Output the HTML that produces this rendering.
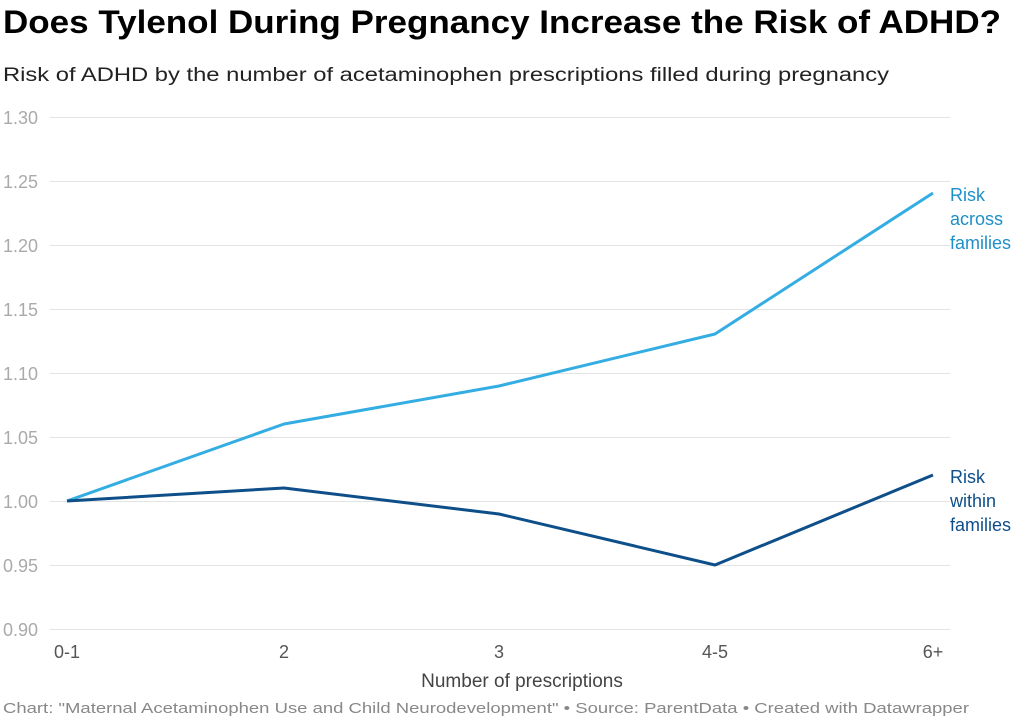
<!DOCTYPE html>
<html><head><meta charset="utf-8"><style>body{margin:0;background:#fff}svg{display:block}</style></head><body>
<svg width="1024" height="720" xmlns="http://www.w3.org/2000/svg" font-family="Liberation Sans, sans-serif">
<text x="3" y="33" font-size="32" font-weight="bold" fill="#000" textLength="998" lengthAdjust="spacingAndGlyphs">Does Tylenol During Pregnancy Increase the Risk of ADHD?</text>
<text x="3" y="81" font-size="19" fill="#222" textLength="886" lengthAdjust="spacingAndGlyphs">Risk of ADHD by the number of acetaminophen prescriptions filled during pregnancy</text>
<g stroke="#e3e3e3" stroke-width="1">
<line x1="50" x2="950" y1="117.5" y2="117.5"/><line x1="50" x2="950" y1="181.5" y2="181.5"/><line x1="50" x2="950" y1="245.5" y2="245.5"/><line x1="50" x2="950" y1="309.5" y2="309.5"/><line x1="50" x2="950" y1="373.5" y2="373.5"/><line x1="50" x2="950" y1="437.5" y2="437.5"/><line x1="50" x2="950" y1="501.5" y2="501.5"/><line x1="50" x2="950" y1="565.5" y2="565.5"/><line x1="50" x2="950" y1="629.5" y2="629.5"/>
</g>
<g font-size="18" fill="#aaa">
<text x="3" y="124">1.30</text><text x="3" y="188">1.25</text><text x="3" y="252">1.20</text><text x="3" y="316">1.15</text><text x="3" y="380">1.10</text><text x="3" y="444">1.05</text><text x="3" y="508">1.00</text><text x="3" y="572">0.95</text><text x="3" y="636">0.90</text>
</g>
<g font-size="18" fill="#555" text-anchor="middle">
<text x="67" y="658">0-1</text><text x="284" y="658">2</text><text x="499" y="658">3</text><text x="715" y="658">4-5</text><text x="933" y="658">6+</text>
</g>
<text x="522" y="687" font-size="19" fill="#444" text-anchor="middle">Number of prescriptions</text>
<polyline fill="none" stroke="#34ade3" stroke-width="3" stroke-linejoin="round" points="67,501 284,424 499,386 715,334 933,193"/>
<polyline fill="none" stroke="#0e4f8a" stroke-width="3" stroke-linejoin="round" points="67,501 284,488 499,514 715,565 933,475"/>
<g font-size="18" fill="#1f8fc9"><text x="950" y="201">Risk</text><text x="950" y="225">across</text><text x="950" y="249">families</text></g>
<g font-size="18" fill="#0e4f8a"><text x="950" y="483">Risk</text><text x="950" y="507">within</text><text x="950" y="531">families</text></g>
<text x="3" y="713" font-size="15" fill="#888" textLength="966" lengthAdjust="spacingAndGlyphs">Chart: "Maternal Acetaminophen Use and Child Neurodevelopment" • Source: ParentData • Created with Datawrapper</text>
</svg>
</body></html>
